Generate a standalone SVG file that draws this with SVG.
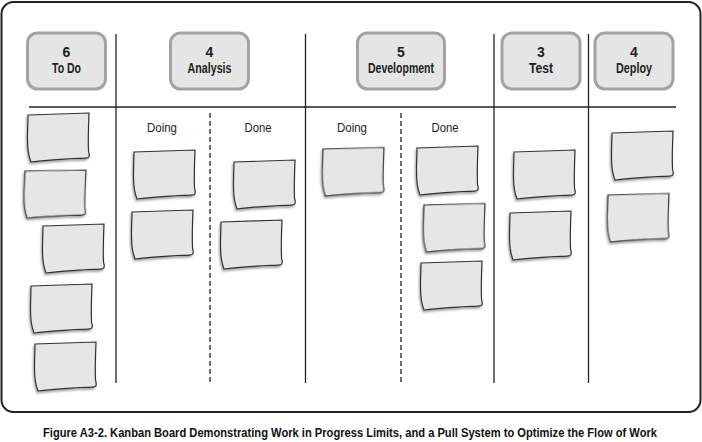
<svg xmlns="http://www.w3.org/2000/svg" width="702" height="442" viewBox="0 0 702 442">
<defs>
<style>
.frame{fill:#fff;stroke:#222;stroke-width:2}
.hdr rect{fill:#e5e5e5;stroke:#a3a3a3;stroke-width:3}
.hdr text{font-family:"Liberation Sans",Arial,sans-serif;font-weight:bold;font-size:14px;fill:#222;text-anchor:middle}
.sub{font-family:"Liberation Sans",Arial,sans-serif;font-size:13.5px;fill:#222;text-anchor:middle}
.ln{stroke:#222;stroke-width:1.3;fill:none}
.dash{stroke:#222;stroke-width:1.3;fill:none;stroke-dasharray:5 3}
.note{fill:#e6e6e6;stroke:#333;stroke-width:1.2;filter:url(#sh)}
.cap{font-family:"Liberation Sans",Arial,sans-serif;font-weight:bold;font-size:11px;fill:#111;text-anchor:middle}
</style>
<filter id="sh" x="-20%" y="-20%" width="140%" height="150%">
<feDropShadow dx="-1" dy="2" stdDeviation="1.3" flood-color="#000" flood-opacity="0.35"/>
</filter>
<path id="n" d="M1,2 L62,0 C61.5,12 61,28 61.5,38 C62,41 63.5,43 61,44.5 C58,46 54,45 46,45.5 C30,46.5 16,47 4,49 C2,44 0.5,36 0.5,26 C0.5,16 1,8 1,2 Z"/>
</defs>
<rect class="frame" x="1.5" y="2" width="699" height="410" rx="12"/>

<g id="connectors">
<line class="ln" x1="29" y1="107" x2="676" y2="107"/>
<line class="ln" x1="116" y1="34" x2="116" y2="383"/>
<line class="ln" x1="305.5" y1="34" x2="305.5" y2="383"/>
<line class="ln" x1="494" y1="34" x2="494" y2="383"/>
<line class="ln" x1="588.5" y1="34" x2="588.5" y2="383"/>
<line class="dash" x1="210" y1="113" x2="210" y2="383"/>
<line class="dash" x1="401" y1="113" x2="401" y2="383"/>
</g>

<g id="hdr-todo" class="hdr"><rect x="27.5" y="33" width="78" height="56" rx="10"/><text x="66.5" y="57">6</text><text x="66.5" y="73" textLength="29" lengthAdjust="spacingAndGlyphs">To Do</text></g>
<g id="hdr-analysis" class="hdr"><rect x="170.5" y="33" width="78" height="56" rx="10"/><text x="209.5" y="57">4</text><text x="209.5" y="73" textLength="44" lengthAdjust="spacingAndGlyphs">Analysis</text></g>
<g id="hdr-dev" class="hdr"><rect x="357.5" y="33" width="87" height="56" rx="10"/><text x="401" y="57">5</text><text x="401" y="73" textLength="66" lengthAdjust="spacingAndGlyphs">Development</text></g>
<g id="hdr-test" class="hdr"><rect x="502" y="33" width="78" height="56" rx="10"/><text x="541" y="57">3</text><text x="541" y="73" textLength="24" lengthAdjust="spacingAndGlyphs">Test</text></g>
<g id="hdr-deploy" class="hdr"><rect x="595" y="33" width="78" height="56" rx="10"/><text x="634" y="57">4</text><text x="634" y="73" textLength="36" lengthAdjust="spacingAndGlyphs">Deploy</text></g>

<g id="labels">
<text class="sub" x="162" y="132" textLength="30" lengthAdjust="spacingAndGlyphs">Doing</text>
<text class="sub" x="258" y="132" textLength="27" lengthAdjust="spacingAndGlyphs">Done</text>
<text class="sub" x="352" y="132" textLength="30" lengthAdjust="spacingAndGlyphs">Doing</text>
<text class="sub" x="445" y="132" textLength="27" lengthAdjust="spacingAndGlyphs">Done</text>
</g>

<g id="notes-todo">
<use href="#n" class="note" transform="translate(27,113)"/>
<use href="#n" class="note" transform="translate(24,169) rotate(1)"/>
<use href="#n" class="note" transform="translate(42,224)"/>
<use href="#n" class="note" transform="translate(30,284)"/>
<use href="#n" class="note" transform="translate(34,342)"/>
</g>
<g id="notes-analysis">
<use href="#n" class="note" transform="translate(133,150)"/>
<use href="#n" class="note" transform="translate(131,210)"/>
<use href="#n" class="note" transform="translate(233,160)"/>
<use href="#n" class="note" transform="translate(220,220)"/>
</g>
<g id="notes-dev">
<use href="#n" class="note" transform="translate(322,147) rotate(0.5)"/>
<use href="#n" class="note" transform="translate(416,146)"/>
<use href="#n" class="note" transform="translate(423,203) rotate(0.5)"/>
<use href="#n" class="note" transform="translate(420,261)"/>
</g>
<g id="notes-test">
<use href="#n" class="note" transform="translate(513,150)"/>
<use href="#n" class="note" transform="translate(509,211)"/>
</g>
<g id="notes-deploy">
<use href="#n" class="note" transform="translate(611,131)"/>
<use href="#n" class="note" transform="translate(607,193) rotate(0.5)"/>
</g>

<text class="cap" transform="translate(350,437) scale(1,1.15)" x="0" y="0" textLength="614" lengthAdjust="spacingAndGlyphs">Figure A3-2. Kanban Board Demonstrating Work in Progress Limits, and a Pull System to Optimize the Flow of Work</text>
</svg>
